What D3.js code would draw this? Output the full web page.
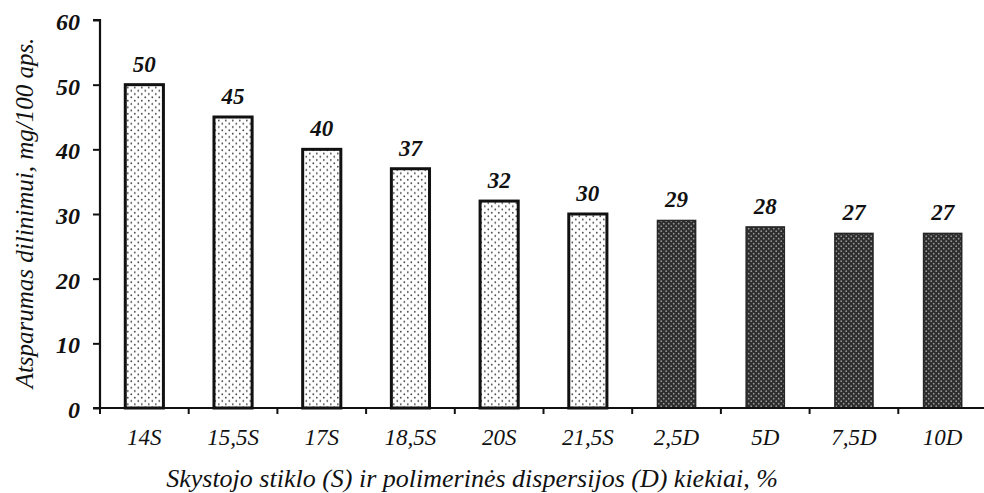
<!DOCTYPE html>
<html>
<head>
<meta charset="utf-8">
<script src="https://cdn.jsdelivr.net/npm/d3@7/dist/d3.min.js"></script>
<style>
  html, body { margin: 0; padding: 0; background: #fff; }
  svg { display: block; }
</style>
</head>
<body>
<svg id="chart" width="984" height="493"></svg>
<script>
// Wear resistance by additive amount
const categories = ["14S", "15,5S", "17S", "18,5S", "20S", "21,5S", "2,5D", "5D", "7,5D", "10D"];
const values = [50, 45, 40, 37, 32, 30, 29, 28, 27, 27];
const groups = ["S", "S", "S", "S", "S", "S", "D", "D", "D", "D"];
const yTicks = [0, 10, 20, 30, 40, 50, 60];
const yTitle = "Atsparumas dilinimui, mg/100 aps.";
const xTitle = "Skystojo stiklo (S) ir polimerinės dispersijos (D) kiekiai, %";

const FONT = "Liberation Serif";
const INK = "#111";
const svg = d3.select("#chart");
const margin = { left: 100, right: 0, top: 20, bottom: 85 };
const width = 984, height = 493;

const x = d3.scaleBand()
  .domain(categories)
  .range([margin.left, 987])
  .paddingInner(0.57)
  .paddingOuter(0.285);

const y = d3.scaleLinear()
  .domain([0, 60])
  .range([height - margin.bottom, margin.top]);

// Fill patterns: light dotted for S, dark dotted for D
const defs = svg.append("defs");
const pS = defs.append("pattern")
  .attr("id", "dotsS").attr("patternUnits", "userSpaceOnUse")
  .attr("width", 7).attr("height", 6.6);
pS.append("rect").attr("width", 7).attr("height", 6.6).attr("fill", "#fff");
pS.append("circle").attr("cx", 1.8).attr("cy", 1.6).attr("r", 0.9).attr("fill", "#444");
pS.append("circle").attr("cx", 5.3).attr("cy", 4.9).attr("r", 0.9).attr("fill", "#444");

const pD = defs.append("pattern")
  .attr("id", "dotsD").attr("patternUnits", "userSpaceOnUse")
  .attr("width", 5).attr("height", 5);
pD.append("rect").attr("width", 5).attr("height", 5).attr("fill", "#2e2e2e");
pD.append("circle").attr("cx", 1.2).attr("cy", 1.2).attr("r", 0.85).attr("fill", "#9a9a9a");
pD.append("circle").attr("cx", 3.7).attr("cy", 3.7).attr("r", 0.85).attr("fill", "#9a9a9a");

// Bars
const data = categories.map((c, i) => ({ c, v: values[i], g: groups[i] }));
svg.append("g").selectAll("rect")
  .data(data)
  .enter().append("rect")
  .attr("x", d => x(d.c))
  .attr("y", d => y(d.v))
  .attr("width", x.bandwidth())
  .attr("height", d => y(0) - y(d.v))
  .attr("fill", d => d.g === "S" ? "url(#dotsS)" : "url(#dotsD)")
  .attr("stroke", d => d.g === "S" ? INK : "#262626")
  .attr("stroke-width", d => d.g === "S" ? 3 : 1.5);

// Value labels
svg.append("g").selectAll("text")
  .data(data)
  .enter().append("text")
  .attr("x", d => x(d.c) + x.bandwidth() / 2)
  .attr("y", d => y(d.v) - 13)
  .attr("text-anchor", "middle")
  .attr("font-family", FONT)
  .attr("font-style", "italic")
  .attr("font-size", 23)
  .attr("font-weight", "bold")
  .attr("fill", INK)
  .text(d => d.v);

// Y axis
const yAxis = svg.append("g")
  .attr("transform", `translate(${margin.left},0)`)
  .call(d3.axisLeft(y).tickValues(yTicks).tickSize(7).tickPadding(13).tickFormat(d3.format("d")));
yAxis.attr("font-family", FONT).attr("font-style", "italic");
yAxis.select(".domain").attr("stroke", INK).attr("stroke-width", 2.2).attr("d", `M-7,${y(60)}H0V${y(0)}`);
yAxis.selectAll(".tick line").attr("stroke", INK).attr("stroke-width", 2);
yAxis.selectAll(".tick text")
  .attr("font-size", 24).attr("font-weight", "bold").attr("dy", "0.4em").attr("fill", INK);

// X axis with ticks at band boundaries
const xAxisG = svg.append("g").attr("transform", `translate(0,${y(0)})`);
xAxisG.append("line")
  .attr("x1", margin.left - 7).attr("x2", width)
  .attr("stroke", INK).attr("stroke-width", 2.2);
const step = x.step();
const bounds = categories.slice(1).map(c => x(c) - x.paddingInner() * step / 2);
xAxisG.selectAll(".xt")
  .data(bounds)
  .enter().append("line")
  .attr("x1", d => d).attr("x2", d => d)
  .attr("y1", 0).attr("y2", 6)
  .attr("stroke", INK).attr("stroke-width", 2);
xAxisG.append("line")
  .attr("x1", margin.left).attr("x2", margin.left)
  .attr("y1", 0).attr("y2", 6)
  .attr("stroke", INK).attr("stroke-width", 2);

xAxisG.selectAll(".xl")
  .data(categories)
  .enter().append("text")
  .attr("x", d => x(d) + x.bandwidth() / 2)
  .attr("y", 37)
  .attr("text-anchor", "middle")
  .attr("font-family", FONT)
  .attr("font-style", "italic")
  .attr("font-size", 23)
  .attr("fill", INK)
  .text(d => d);

// Axis titles
svg.append("text")
  .attr("transform", `translate(33,213) rotate(-90)`)
  .attr("text-anchor", "middle")
  .attr("font-family", FONT)
  .attr("font-style", "italic")
  .attr("font-size", 25)
  .attr("fill", INK)
  .text(yTitle);

svg.append("text")
  .attr("x", 472)
  .attr("y", 487)
  .attr("text-anchor", "middle")
  .attr("font-family", FONT)
  .attr("font-style", "italic")
  .attr("font-size", 26)
  .attr("fill", INK)
  .text(xTitle);
</script>
</body>
</html>
